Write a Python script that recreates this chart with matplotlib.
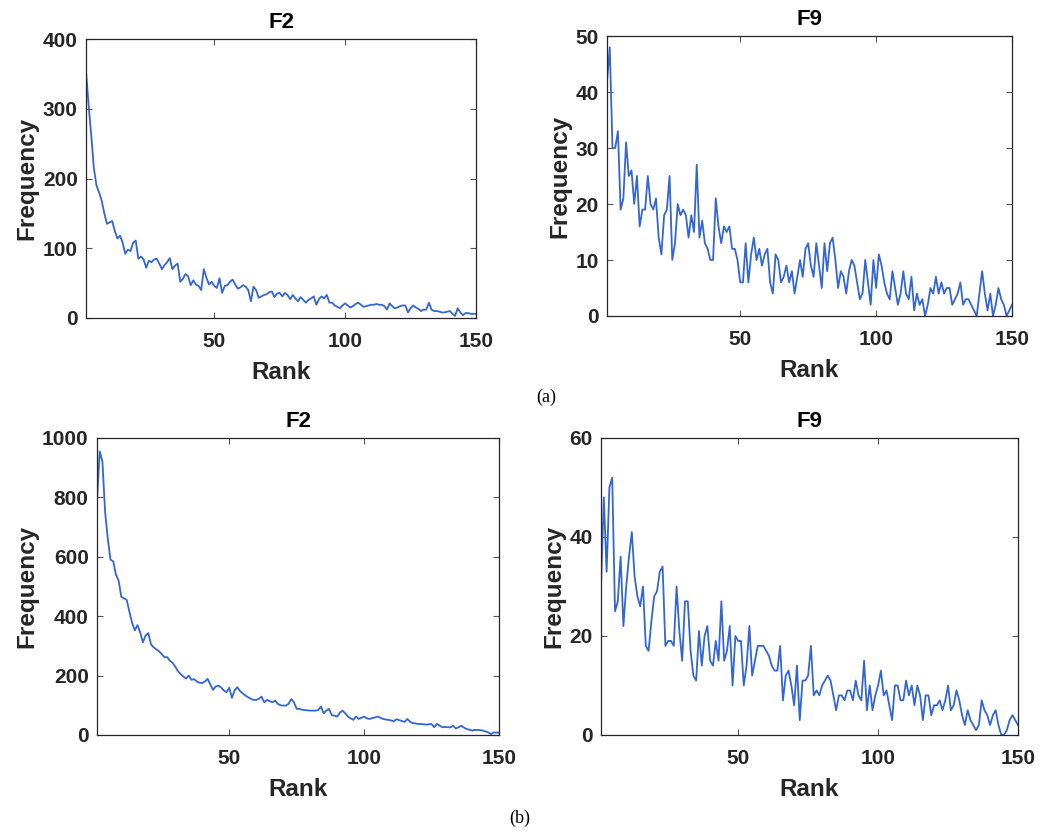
import matplotlib
matplotlib.use("Agg")
import matplotlib.pyplot as plt
import numpy as np

plt.rcParams['font.family'] = ['Liberation Sans', 'DejaVu Sans']

rank = np.arange(1, 151)

# (a) F2
f2_a = [354, 305, 262, 215, 190, 180, 168, 150, 135, 137,
        139, 125, 114, 118, 108, 92, 98, 96, 108, 111,
        85, 88, 84, 72, 82, 80, 84, 85, 78, 70,
        76, 80, 86, 70, 75, 78, 52, 56, 63, 60,
        47, 54, 48, 46, 40, 70, 58, 48, 52, 46,
        43, 57, 36, 46, 47, 52, 55, 48, 42, 44,
        47, 45, 40, 24, 45, 40, 29, 31, 33, 34,
        37, 38, 30, 35, 36, 31, 36, 33, 27, 33,
        28, 24, 30, 26, 22, 26, 28, 31, 19, 27,
        31, 28, 33, 22, 22, 18, 16, 14, 18, 21,
        18, 15, 17, 20, 22, 19, 16, 17, 18, 19,
        19, 20, 19, 19, 17, 12, 21, 17, 14, 15,
        17, 18, 18, 8, 14, 18, 15, 13, 10, 12,
        12, 22, 12, 10, 10, 9, 8, 8, 9, 10,
        6, 3, 14, 8, 4, 7, 7, 6, 6, 6]

# (a) F9
f9_a = [42, 48, 30, 30, 33, 19, 21, 31, 25, 26,
        20, 25, 16, 19, 19, 25, 20, 19, 21, 14,
        11, 18, 19, 25, 10, 13, 20, 18, 19, 18,
        14, 18, 15, 27, 14, 17, 13, 12, 10, 10,
        21, 16, 13, 16, 15, 16, 12, 12, 10, 6,
        6, 13, 6, 11, 14, 10, 12, 9, 11, 12,
        6, 4, 11, 10, 6, 7, 9, 6, 8, 4,
        7, 10, 7, 12, 13, 9, 7, 13, 9, 5,
        13, 8, 13, 14, 10, 5, 8, 7, 4, 8,
        10, 9, 6, 3, 4, 10, 6, 2, 10, 5,
        11, 9, 6, 4, 3, 8, 5, 2, 4, 8,
        4, 3, 7, 1, 4, 2, 3, 0, 2, 5,
        4, 7, 4, 6, 4, 5, 5, 2, 3, 4,
        6, 2, 3, 3, 2, 1, 0, 4, 8, 4,
        1, 4, 0, 2, 5, 3, 2, 0, 1, 2]

# (b) F2
f2_b = [790, 955, 920, 750, 660, 590, 585, 540, 520, 465,
        460, 455, 415, 378, 352, 370, 345, 312, 335, 343,
        305, 295, 288, 282, 272, 262, 262, 250, 243, 230,
        215, 205, 197, 190, 200, 186, 188, 180, 176, 175,
        180, 189, 170, 152, 163, 166, 160, 150, 144, 159,
        125, 150, 161, 148, 140, 133, 127, 122, 118, 118,
        122, 129, 110, 118, 114, 110, 116, 105, 100, 99,
        99, 105, 121, 110, 88, 88, 85, 84, 83, 82,
        82, 82, 84, 96, 73, 82, 88, 67, 65, 62,
        75, 82, 73, 62, 56, 51, 62, 54, 58, 62,
        56, 54, 57, 59, 62, 58, 54, 52, 51, 49,
        46, 53, 50, 47, 44, 54, 45, 40, 39, 37,
        37, 36, 35, 36, 37, 26, 37, 32, 26, 27,
        26, 26, 31, 22, 26, 31, 25, 20, 18, 15,
        17, 17, 16, 15, 12, 9, 3, 8, 8, 8]

# (b) F9
f9_b = [30, 48, 33, 50, 52, 25, 27, 36, 22, 30,
        36, 41, 32, 28, 26, 30, 18, 17, 23, 28,
        29, 33, 34, 18, 19, 19, 18, 30, 21, 15,
        27, 27, 17, 12, 11, 21, 14, 20, 22, 15,
        14, 19, 15, 27, 15, 17, 22, 10, 20, 19,
        19, 10, 14, 22, 12, 15, 18, 18, 18, 17,
        16, 14, 13, 13, 18, 7, 12, 13, 10, 6,
        14, 3, 11, 11, 12, 18, 8, 9, 8, 10,
        11, 12, 11, 8, 5, 8, 8, 7, 9, 9,
        7, 11, 8, 7, 15, 5, 10, 5, 8, 10,
        13, 8, 9, 6, 3, 10, 10, 7, 7, 11,
        8, 10, 6, 10, 8, 3, 8, 8, 4, 6,
        6, 7, 5, 7, 10, 5, 6, 9, 7, 4,
        2, 5, 3, 2, 1, 2, 7, 5, 4, 2,
        4, 5, 2, 0, 0, 1, 3, 4, 3, 2]

line_color = '#3366d4'

panels = [
    ([0.0827, 0.6178, 0.375, 0.3353], f2_a, "F2", 400, np.arange(0, 401, 100)),
    ([0.5837, 0.6202, 0.3894, 0.3365], f9_a, "F9", 50, np.arange(0, 51, 10)),
    ([0.0933, 0.1166, 0.3865, 0.357], f2_b, "F2", 1000, np.arange(0, 1001, 200)),
    ([0.5779, 0.1166, 0.401, 0.357], f9_b, "F9", 60, np.arange(0, 61, 20)),
]

fig = plt.figure(figsize=(10.4, 8.32), dpi=100)

for rect, vals, title, ymax, yticks in panels:
    ax = fig.add_axes(rect)
    ax.plot(rank, vals, color=line_color, linewidth=1.3)
    ax.set_xlim(1, 150)
    ax.set_ylim(0, ymax)
    ax.set_xticks([50, 100, 150])
    ax.set_yticks(yticks)
    ax.tick_params(direction='in', top=True, right=True, length=4,
                   color='#555555', labelsize=15)
    ax.tick_params(axis='x', pad=10)
    ax.tick_params(axis='y', pad=6)
    for lbl in ax.get_xticklabels() + ax.get_yticklabels():
        lbl.set_fontweight('bold')
        lbl.set_color('#262626')
    for sp in ax.spines.values():
        sp.set_color('#262626')
        sp.set_linewidth(0.9)
    ax.set_title(title, fontsize=16, fontweight='bold', pad=8)
    ax.set_xlabel("Rank", fontsize=17.5, fontweight='bold', color='#262626', labelpad=7)
    ax.set_ylabel("Frequency", fontsize=17.5, fontweight='bold', color='#262626', labelpad=3)

fig.text(0.525, 0.523, "(a)", family='Liberation Serif', fontsize=13, ha='center', va='center')
fig.text(0.5, 0.017, "(b)", family='Liberation Serif', fontsize=13, ha='center', va='center')

fig.savefig("out.png", dpi=100)
